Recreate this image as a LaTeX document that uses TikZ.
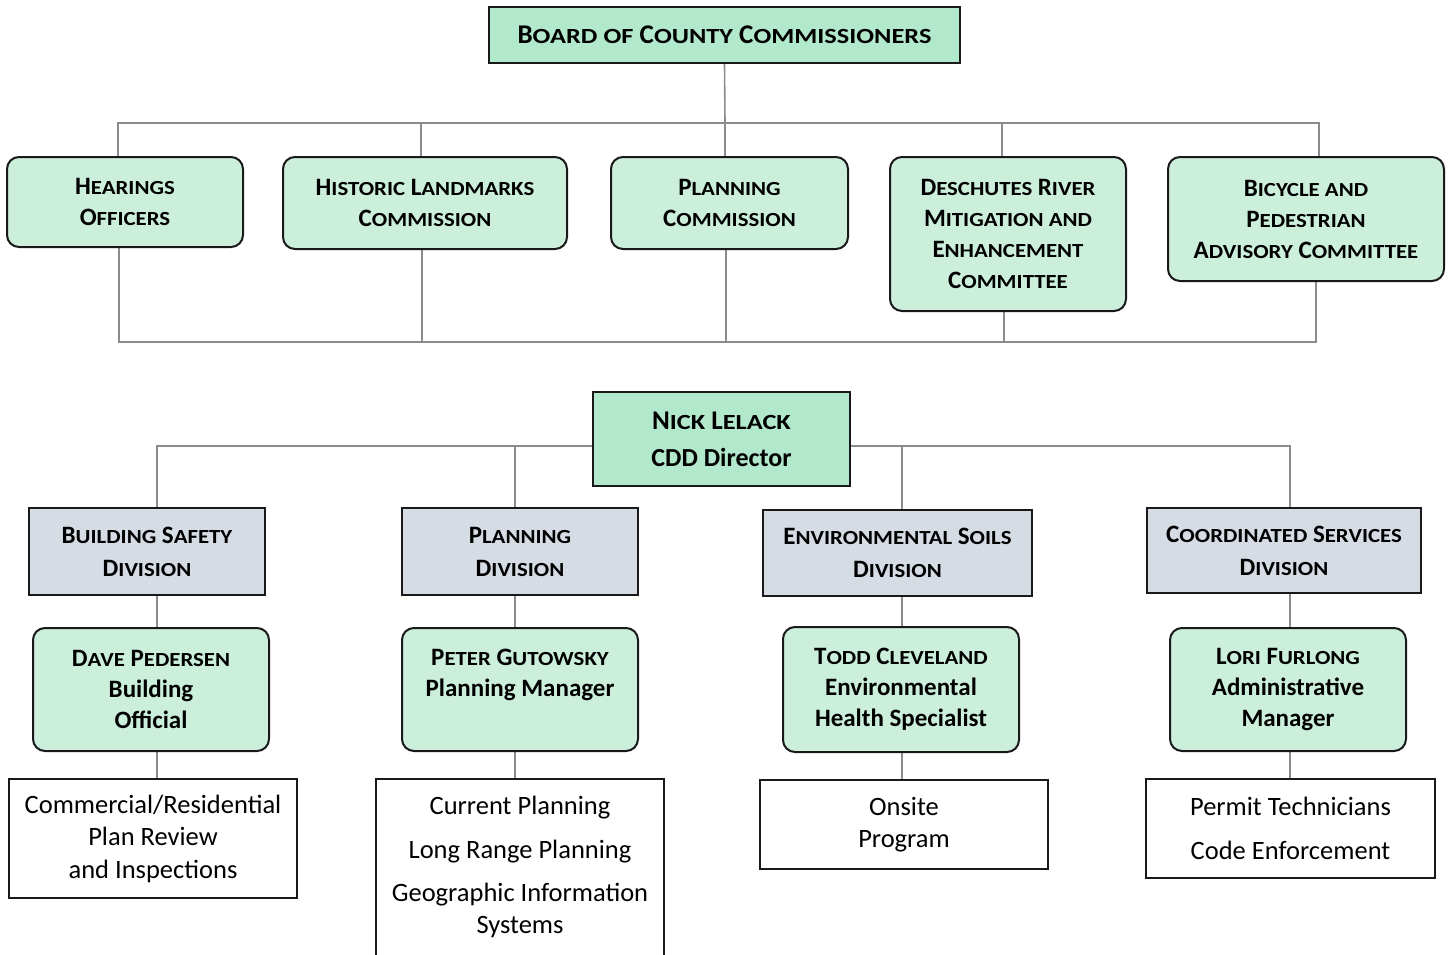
\documentclass[tikz,border=0pt]{standalone}
\usepackage{fontspec}
\setmainfont{Carlito}
\usetikzlibrary{backgrounds}
\makeatletter
% synthetic small capitals: lower-case part set in capitals at 80% size, widened
\newcommand\smcstretch{1.14}
\newcommand\smc[1]{{\fontsize{\fpeval{0.8*\f@size}pt}{0pt}\selectfont
  \expanded{\noexpand\addfontfeatures{FakeStretch=\smcstretch}}#1}}
\makeatother
\definecolor{boardgreen}{HTML}{B2E8CB}
\definecolor{paleg}{HTML}{CCEFDC}
\definecolor{divblue}{HTML}{D5DCE4}
\definecolor{linkgray}{HTML}{8C8C8C}
\tikzset{
  box/.style={draw=black!90, line width=2pt, inner sep=0pt, align=center, text=black},
  boardbox/.style={box, fill=boardgreen, font=\fontsize{27}{33}\selectfont\bfseries\def\smcstretch{1.22}},
  grnbox/.style={box, fill=paleg, rounded corners=12pt, font=\fontsize{25}{31}\selectfont\bfseries},
  nickbox/.style={box, fill=boardgreen, font=\fontsize{26}{37}\selectfont\bfseries},
  divbox/.style={box, fill=divblue, font=\fontsize{25}{33}\selectfont\bfseries},
  wbox/.style={box, fill=white, font=\fontsize{26.5}{32.5}\selectfont},
  conn/.style={draw=linkgray, line width=1.6pt},
}
\begin{document}
\begin{tikzpicture}[x=1pt,y=-1pt]
\useasboundingbox (0,0) rectangle (1450,955);
\clip (0,0) rectangle (1450,955);

% board and advisory bodies
\node[boardbox, minimum width=471pt, minimum height=56pt] (board) at (724.5,35)
  {B\smc{OARD} \smc{OF} C\smc{OUNTY} C\smc{OMMISSIONERS}};
\node[grnbox, minimum width=236pt, minimum height=90pt] (hear) at (125,202)
  {H\smc{EARINGS}\\O\smc{FFICERS}};
\node[grnbox, minimum width=284pt, minimum height=92pt] (hist) at (425,203)
  {H\smc{ISTORIC} L\smc{ANDMARKS}\\C\smc{OMMISSION}};
\node[grnbox, minimum width=237pt, minimum height=92pt] (plc) at (729.5,203)
  {P\smc{LANNING}\\C\smc{OMMISSION}};
\node[grnbox, minimum width=236pt, minimum height=154pt] (desc) at (1008,234)
  {D\smc{ESCHUTES} R\smc{IVER}\\M\smc{ITIGATION AND}\\E\smc{NHANCEMENT}\\C\smc{OMMITTEE}};
\node[grnbox, minimum width=276pt, minimum height=124pt] (bike) at (1306,219)
  {B\smc{ICYCLE AND}\\P\smc{EDESTRIAN}\\A\smc{DVISORY} C\smc{OMMITTEE}};

\coordinate (topbus) at (725,123);
\coordinate (botbus) at (726,342);

% department
\node[nickbox, minimum width=257pt, minimum height=94pt] (nick) at (721.5,439)
  {{\fontsize{27}{37}\selectfont\def\smcstretch{1.22}N\smc{ICK} L\smc{ELACK}}\\CDD Director};
\coordinate (nickbus) at (722,446);

\node[divbox, minimum width=236pt, minimum height=87pt] (bsd) at (147,551.5)
  {B\smc{UILDING} S\smc{AFETY}\\D\smc{IVISION}};
\node[divbox, minimum width=236pt, minimum height=87pt] (pld) at (520,551.5)
  {P\smc{LANNING}\\D\smc{IVISION}};
\node[divbox, minimum width=269pt, minimum height=86pt] (env) at (897.5,553)
  {E\smc{NVIRONMENTAL} S\smc{OILS}\\D\smc{IVISION}};
\node[divbox, minimum width=274pt, minimum height=85pt] (crd) at (1284,550.5)
  {C\smc{OORDINATED} S\smc{ERVICES}\\D\smc{IVISION}};

\node[grnbox, minimum width=236pt, minimum height=123pt] (dave) at (151,689.5)
  {D\smc{AVE} P\smc{EDERSEN}\\Building\\Official};
\node[grnbox, minimum width=236pt, minimum height=123pt] (peter) at (520,689.5)
  {P\smc{ETER} G\smc{UTOWSKY}\\Planning Manager\\[-6pt]\strut};
\node[grnbox, minimum width=236pt, minimum height=125pt] (todd) at (901,689.5)
  {T\smc{ODD} C\smc{LEVELAND}\\Environmental\\Health Specialist};
\node[grnbox, minimum width=236pt, minimum height=123pt] (lori) at (1288,689.5)
  {L\smc{ORI} F\smc{URLONG}\\Administrative\\Manager};

\node[wbox, minimum width=288pt, minimum height=119pt] (wb1) at (153,838.5)
  {Commercial/Residential\\Plan Review\\and Inspections};
\node[wbox, minimum width=288pt, minimum height=246pt] (wb2) at (520,902)
  {Current Planning\\[11.5pt]Long Range Planning\\[10.5pt]Geographic Information\\Systems\\\strut\\\strut};
\node[wbox, minimum width=288pt, minimum height=89pt] (wb3) at (904,824.5)
  {Onsite\\Program};
\node[wbox, minimum width=289pt, minimum height=99pt] (wb4) at (1290.5,828.5)
  {Permit Technicians\\[11.5pt]Code Enforcement};

\begin{scope}[on background layer]
  % board to advisory bodies
  \draw[conn] (board.south) -- (topbus);
  \draw[conn] ([xshift=-7pt]hear.north) |- (topbus);
  \draw[conn] ([xshift=-4pt]hist.north) |- (topbus);
  \draw[conn] ([xshift=-4.5pt]plc.north) |- (topbus);
  \draw[conn] ([xshift=-6pt]desc.north) |- (topbus);
  \draw[conn] ([xshift=13pt]bike.north) |- (topbus);
  \draw[conn] ([xshift=-6pt]hear.south) |- (botbus);
  \draw[conn] ([xshift=-3pt]hist.south) |- (botbus);
  \draw[conn] ([xshift=-3.5pt]plc.south) |- (botbus);
  \draw[conn] ([xshift=-4pt]desc.south) |- (botbus);
  \draw[conn] ([xshift=10pt]bike.south) |- (botbus);
  % director to divisions
  \draw[conn] ([xshift=10pt]bsd.north) |- (nickbus);
  \draw[conn] ([xshift=-5pt]pld.north) |- (nickbus);
  \draw[conn] ([xshift=4.5pt]env.north) |- (nickbus);
  \draw[conn] ([xshift=6pt]crd.north) |- (nickbus);
  % divisions to managers to programs
  \draw[conn] ([xshift=10pt]bsd.south) -- ([xshift=6pt]dave.north);
  \draw[conn] ([xshift=6pt]dave.south) -- ([xshift=4pt]wb1.north);
  \draw[conn] ([xshift=-5pt]pld.south) -- ([xshift=-5pt]peter.north);
  \draw[conn] ([xshift=-5pt]peter.south) -- ([xshift=-5pt]wb2.north);
  \draw[conn] ([xshift=4.5pt]env.south) -- ([xshift=1pt]todd.north);
  \draw[conn] ([xshift=1pt]todd.south) -- ([xshift=-2pt]wb3.north);
  \draw[conn] ([xshift=6pt]crd.south) -- ([xshift=2pt]lori.north);
  \draw[conn] ([xshift=2pt]lori.south) -- ([xshift=-0.5pt]wb4.north);
\end{scope}
\end{tikzpicture}
\end{document}
